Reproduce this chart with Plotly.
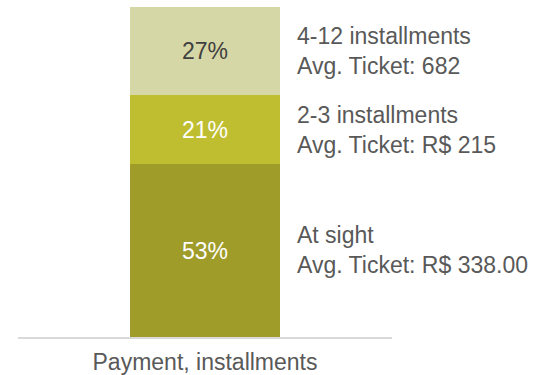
import plotly.graph_objects as go

# Payment mix by installment plan
category = ["Payment, installments"]
segments = ["At sight", "2-3 installments", "4-12 installments"]
shares = [53, 21, 27]
avg_tickets = ["R$ 338.00", "R$ 215", "682"]

seg_colors = ["#9f9c2a", "#bfbe31", "#d6d7a6"]
label_colors = ["#ffffff", "#ffffff", "#404040"]

FONT = "Liberation Sans, Arial, sans-serif"
TEXT_GRAY = "#595959"
SIZE = 23

fig = go.Figure()

for seg, val, col, lcol in zip(segments, shares, seg_colors, label_colors):
    fig.add_trace(go.Bar(
        x=category,
        y=[val],
        name=seg,
        width=1.0,
        marker=dict(color=col, line=dict(width=0)),
        text=[f"{val}%"],
        textposition="inside",
        insidetextanchor="middle",
        textangle=0,
        constraintext="none",
        textfont=dict(family=FONT, size=SIZE, color=lcol),
        hoverinfo="skip",
    ))

# Side labels next to each stacked segment
base = 0
for seg, val, tk in zip(segments, shares, avg_tickets):
    mid = base + val / 2
    base += val
    fig.add_annotation(
        x=category[0], y=mid, xref="x", yref="y",
        text=f"{seg}<br>Avg. Ticket: {tk}",
        showarrow=False,
        xanchor="left", yanchor="middle", align="left",
        xshift=90,
        font=dict(family=FONT, size=SIZE, color=TEXT_GRAY),
    )

fig.update_layout(
    barmode="stack",
    width=543, height=375,
    margin=dict(l=18, r=151, t=7, b=38),
    paper_bgcolor="white",
    plot_bgcolor="white",
    showlegend=False,
    bargap=0,
    font=dict(family=FONT, color=TEXT_GRAY),
)

fig.update_xaxes(
    type="category",
    range=[-1.25, 1.25],
    automargin=False,
    showline=True, linecolor="#d9d9d9", linewidth=2,
    showgrid=False, zeroline=False,
    ticks="outside", ticklen=3, tickcolor="rgba(0,0,0,0)",
    tickfont=dict(family=FONT, size=SIZE, color=TEXT_GRAY),
)
fig.update_yaxes(
    range=[0, sum(shares)],
    visible=False,
    automargin=False,
)

fig.write_html("out.html")
